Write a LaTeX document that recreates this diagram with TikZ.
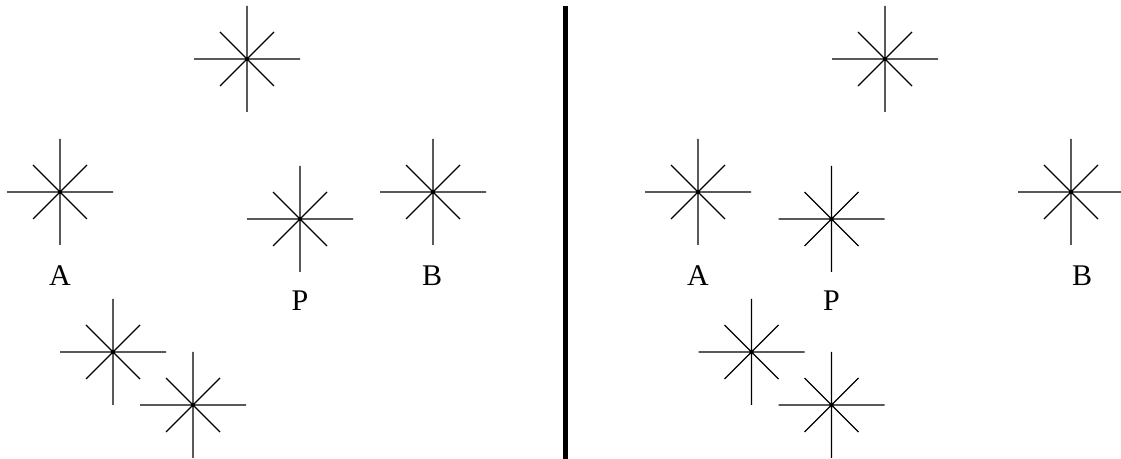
\documentclass[tikz,border=0pt]{standalone}
\usepackage{fontspec}
\setmainfont{Liberation Serif}
\usepackage{tikz}

\begin{document}
\begin{tikzpicture}[x=0.75pt,y=-0.75pt,
  sparkle/.style={line width=0.9pt},
  lbl/.style={font=\fontsize{22.5}{27}\selectfont, inner sep=0pt, anchor=base},
  divider/.style={line width=3.75pt}]
\useasboundingbox (0,0) rectangle (1121,459);
% stars, left panel then right panel
\foreach \n/\x/\y in {lT/247/59, lA/60/192, lP/300/219, lB/433/192, lC/113/352, lD/193/405,
                      rT/885/59, rA/698/192, rP/831.5/219, rB/1071/192, rC/751.5/352, rD/831.5/405} {
  \coordinate (\n) at (\x,\y);
  \draw[sparkle] (\n) +(-53,0) -- +(53,0)
                 (\n) +(0,-53) -- +(0,53)
                 (\n) +(-27,-27) -- +(27,27)
                 (\n) +(-27,27) -- +(27,-27);
}
% labels
\node[lbl] (lAtxt) at (60,285.5) {A};
\node[lbl] (lPtxt) at (300,310.5) {P};
\node[lbl] (lBtxt) at (432,285.5) {B};
\node[lbl] (rAtxt) at (698,285.5) {A};
\node[lbl] (rPtxt) at (831.5,310.5) {P};
\node[lbl] (rBtxt) at (1082,285.5) {B};
% separator
\coordinate (bartop) at (565.8,6);
\coordinate (barbot) at (565.8,459);
\draw[divider] (bartop) -- (barbot);
\end{tikzpicture}
\end{document}
